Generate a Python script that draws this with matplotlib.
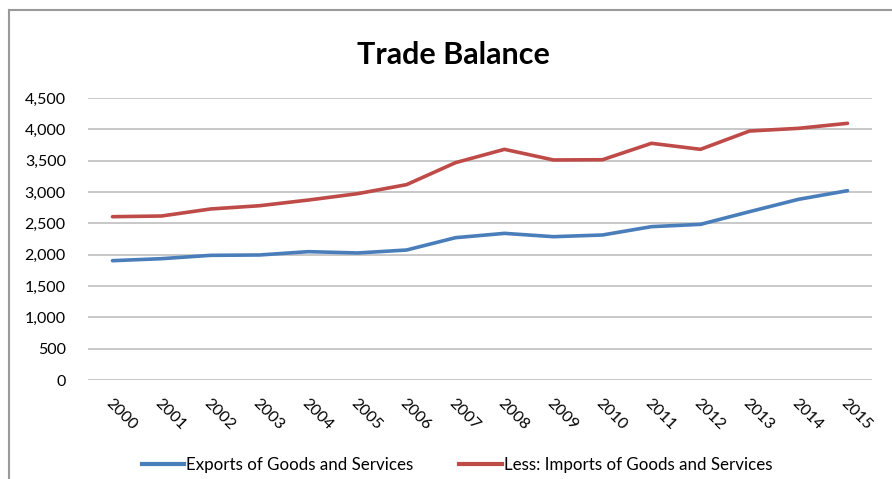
import matplotlib
matplotlib.use("Agg")
import matplotlib.pyplot as plt
from matplotlib.lines import Line2D
from matplotlib.ticker import FuncFormatter

years = [str(y) for y in range(2000, 2016)]
exports = [1904, 1936, 1989, 1995, 2048, 2027, 2074, 2271, 2340, 2287, 2314, 2447, 2484, 2686, 2883, 3021]
imports = [2606, 2617, 2729, 2781, 2872, 2973, 3117, 3468, 3681, 3511, 3515, 3777, 3681, 3973, 4016, 4096]
series_names = ["Exports of Goods and Services", "Less: Imports of Goods and Services"]
colors = ["#4A7EBB", "#BE4B48"]

plt.rcParams['font.family'] = ['Lato', 'DejaVu Sans']

W, H = 892, 479
fig = plt.figure(figsize=(W / 100, H / 100), dpi=100)
ax = fig.add_axes([88 / W, 1 - 380 / H, (872 - 88) / W, (380 - 98) / H])

x = list(range(len(years)))
ax.plot(x, exports, color=colors[0], lw=2.6, solid_capstyle='round', label=series_names[0])
ax.plot(x, imports, color=colors[1], lw=2.6, solid_capstyle='round', label=series_names[1])

ax.set_xlim(-0.5, len(years) - 0.5)
ax.set_ylim(0, 4500)
ax.set_yticks(range(0, 4501, 500))
ax.yaxis.set_major_formatter(FuncFormatter(lambda v, p: f"{int(v):,}"))
ax.set_xticks(x)
ax.set_xticklabels(years, rotation=-45, ha='left', va='top', rotation_mode='anchor')
ax.grid(axis='y', color='#BFBFBF', lw=1.2)
ax.set_axisbelow(True)
for s in ax.spines.values():
    s.set_visible(False)
ax.tick_params(axis='both', length=0, labelsize=11.5, colors='black')
ax.tick_params(axis='y', pad=16)
ax.tick_params(axis='x', pad=12)

fig.text(453 / W, 1 - 55 / H, "Trade Balance", ha='center', va='center',
         fontsize=22, fontweight='bold')

handles = [Line2D([0], [0], color=c, lw=3) for c in colors]
fig.legend(handles, series_names, loc='center', bbox_to_anchor=(457 / W, 1 - 465 / H),
           ncol=2, frameon=False, fontsize=12.2, handlelength=2.5, handletextpad=0.12,
           columnspacing=2.7)

# chart border (left and top visible)
fig.add_artist(Line2D([8.5 / W, 8.5 / W], [0, 1 - 10 / H], color='#999999', lw=1.5,
                      transform=fig.transFigure))
fig.add_artist(Line2D([8.5 / W, 1], [1 - 10 / H, 1 - 10 / H], color='#999999', lw=1.5,
                      transform=fig.transFigure))

fig.savefig("out.png", dpi=100)
